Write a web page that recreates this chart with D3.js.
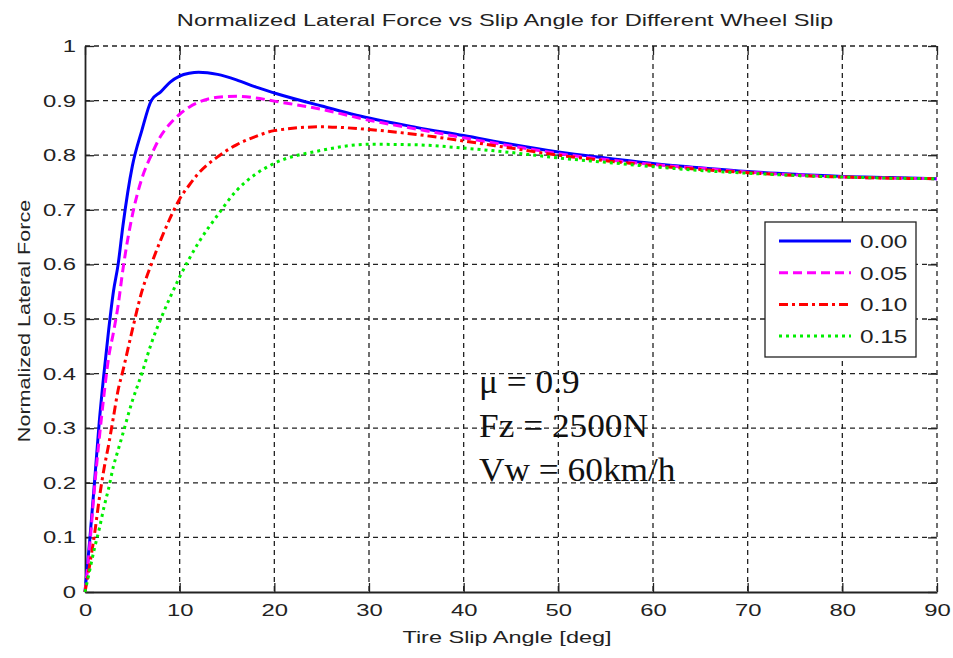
<!DOCTYPE html>
<html>
<head>
<meta charset="utf-8">
<script src="https://cdn.jsdelivr.net/npm/d3@7/dist/d3.min.js"></script>
<style>
  body { margin: 0; background: #fff; }
  svg { display: block; }
</style>
</head>
<body>
<div id="chart"></div>
<script>
//Chart data
let slipAngles = [0, 0.5, 1, 1.5, 2, 2.5, 3, 3.5, 4, 5, 6, 7, 8, 9, 10, 11, 12, 14, 16, 18, 20, 25, 30, 35, 40, 45, 50, 55, 60, 65, 70, 75, 80, 85, 90];
let force000 = [0, 0.095, 0.2, 0.31, 0.4, 0.48, 0.55, 0.6, 0.67, 0.78, 0.845, 0.9, 0.916, 0.934, 0.945, 0.95, 0.952, 0.948, 0.938, 0.925, 0.914, 0.89, 0.868, 0.851, 0.836, 0.82, 0.806, 0.795, 0.785, 0.777, 0.77, 0.765, 0.761, 0.759, 0.757];
let force005 = [0, 0.085, 0.19, 0.28, 0.36, 0.43, 0.475, 0.525, 0.59, 0.69, 0.757, 0.8, 0.835, 0.858, 0.875, 0.888, 0.897, 0.906, 0.908, 0.905, 0.899, 0.884, 0.864, 0.848, 0.832, 0.817, 0.803, 0.792, 0.783, 0.776, 0.769, 0.764, 0.76, 0.758, 0.757];
let force010 = [0, 0.05, 0.105, 0.17, 0.225, 0.27, 0.32, 0.37, 0.405, 0.48, 0.55, 0.6, 0.645, 0.685, 0.72, 0.745, 0.767, 0.797, 0.819, 0.834, 0.845, 0.852, 0.847, 0.838, 0.826, 0.813, 0.8, 0.79, 0.781, 0.774, 0.768, 0.763, 0.76, 0.758, 0.757];
let force015 = [0, 0.04, 0.08, 0.115, 0.155, 0.19, 0.23, 0.26, 0.29, 0.35, 0.4, 0.455, 0.5, 0.54, 0.577, 0.61, 0.64, 0.69, 0.735, 0.765, 0.785, 0.809, 0.82, 0.819, 0.813, 0.805, 0.795, 0.787, 0.779, 0.772, 0.767, 0.763, 0.76, 0.758, 0.757];
let seriesLabels = ["0.00", "0.05", "0.10", "0.15"];
let xTicks = [0, 10, 20, 30, 40, 50, 60, 70, 80, 90];
let yTicks = [0, 0.1, 0.2, 0.3, 0.4, 0.5, 0.6, 0.7, 0.8, 0.9, 1];
let yTickLabels = ["0", "0.1", "0.2", "0.3", "0.4", "0.5", "0.6", "0.7", "0.8", "0.9", "1"];
let notes = ["\u03bc = 0.9", "Fz = 2500N", "Vw = 60km/h"];

//dimensions and margins
let width = 953;
let height = 658;
let margin = { top: 46, right: 16, bottom: 66, left: 85 };
let plotW = width - margin.left - margin.right;
let plotH = height - margin.top - margin.bottom;

//line styles for each series
let styles = [
    { color: "#0000ff", dash: null },
    { color: "#ff00ff", dash: "9,5" },
    { color: "#ff0000", dash: "9,4,3,4" },
    { color: "#00ee00", dash: "3,4" }
];
let allSeries = [force000, force005, force010, force015];

/**
 * The figure's font is a wide bitmap Helvetica: widen real text to match
 * @param {object} sel d3 selection of text nodes
 * @param {number} k widening factor
 */
function widen(sel, k) {
    sel.each(function () {
        let w = this.getComputedTextLength();
        d3.select(this)
            .attr("textLength", w * k)
            .attr("lengthAdjust", "spacingAndGlyphs");
    });
}

let svg = d3.select("#chart")
    .append("svg")
    .attr("width", width)
    .attr("height", height)
    .style("font-family", "'Liberation Sans', Arial, sans-serif");

let g = svg.append("g")
    .attr("transform", "translate(" + margin.left + "," + margin.top + ")");

let x = d3.scaleLinear().domain([0, 90]).range([0, plotW]);
let y = d3.scaleLinear().domain([0, 1]).range([plotH, 0]);

/**
 * Dashed grid lines
 */
let grid = g.append("g").attr("class", "grid");
grid.selectAll("line.vg")
    .data(xTicks.slice(1))
    .enter()
    .append("line")
    .attr("class", "vg")
    .attr("x1", d => x(d)).attr("x2", d => x(d))
    .attr("y1", 0).attr("y2", plotH);
grid.selectAll("line.hg")
    .data(yTicks.slice(1))
    .enter()
    .append("line")
    .attr("class", "hg")
    .attr("x1", 0).attr("x2", plotW)
    .attr("y1", d => y(d)).attr("y2", d => y(d));
grid.selectAll("line")
    .attr("stroke", "#222")
    .attr("stroke-width", 1.3)
    .attr("stroke-dasharray", "5,4");

/**
 * Axes with inward ticks on all four sides
 */
let xAxis = g.append("g")
    .attr("transform", "translate(0," + plotH + ")")
    .call(d3.axisBottom(x).tickValues(xTicks).tickSizeInner(-9).tickSizeOuter(0).tickPadding(12));
let yAxis = g.append("g")
    .call(d3.axisLeft(y).tickValues(yTicks).tickSizeInner(-9).tickSizeOuter(0).tickPadding(9)
        .tickFormat((d, i) => yTickLabels[i]));
let xTop = g.append("g")
    .call(d3.axisTop(x).tickValues(xTicks).tickSizeInner(-9).tickSizeOuter(0).tickFormat(""));
let yRight = g.append("g")
    .attr("transform", "translate(" + plotW + ",0)")
    .call(d3.axisRight(y).tickValues(yTicks).tickSizeInner(-9).tickSizeOuter(0).tickFormat(""));

[xAxis, yAxis, xTop, yRight].forEach(function (a) {
    a.selectAll(".tick line").attr("stroke", "#222").attr("stroke-width", 1.3);
    a.selectAll("text").attr("fill", "#222").style("font-size", "17px");
});
[xTop, yRight].forEach(a => a.select(".domain").remove());
[xAxis, yAxis].forEach(a => a.select(".domain").attr("stroke", "#222").attr("stroke-width", 1.8));
widen(xAxis.selectAll("text"), 1.4);
widen(yAxis.selectAll("text"), 1.4);

/**
 * Curves
 */
let line = d3.line()
    .x((d, i) => x(slipAngles[i]))
    .y(d => y(d))
    .curve(d3.curveMonotoneX);

g.selectAll("path.series")
    .data(allSeries)
    .enter()
    .append("path")
    .attr("class", "series")
    .attr("d", d => line(d))
    .attr("fill", "none")
    .attr("stroke", (d, i) => styles[i].color)
    .attr("stroke-width", 3)
    .attr("stroke-dasharray", (d, i) => styles[i].dash);

/**
 * Legend
 */
let legend = svg.append("g").attr("transform", "translate(765,222)");
legend.append("rect")
    .attr("width", 151).attr("height", 135)
    .attr("fill", "#fff").attr("stroke", "#222").attr("stroke-width", 1.3);
let entries = legend.selectAll("g.entry")
    .data(seriesLabels)
    .enter()
    .append("g")
    .attr("class", "entry")
    .attr("transform", (d, i) => "translate(0," + (19 + i * 31.7) + ")");
entries.append("line")
    .attr("x1", 14).attr("x2", 86)
    .attr("stroke", (d, i) => styles[i].color)
    .attr("stroke-width", 3)
    .attr("stroke-dasharray", (d, i) => styles[i].dash);
let legendText = entries.append("text")
    .attr("x", 95).attr("y", 7)
    .attr("fill", "#222")
    .style("font-size", "18px")
    .text(d => d);
widen(legendText, 1.35);

/**
 * Annotation
 */
let noteText = svg.append("g")
    .selectAll("text")
    .data(notes)
    .enter()
    .append("text")
    .attr("x", 479)
    .attr("y", (d, i) => 393 + i * 44)
    .attr("fill", "#111")
    .style("font-family", "'Liberation Serif', 'Times New Roman', serif")
    .style("font-size", "33px")
    .text(d => d);
widen(noteText, 1.07);

/**
 * Titles
 */
let title = svg.append("text")
    .attr("x", 505).attr("y", 26)
    .attr("text-anchor", "middle")
    .attr("fill", "#222")
    .style("font-size", "17px")
    .text("Normalized Lateral Force vs Slip Angle for Different Wheel Slip");
let xLabel = svg.append("text")
    .attr("x", 507).attr("y", 643)
    .attr("text-anchor", "middle")
    .attr("fill", "#222")
    .style("font-size", "17px")
    .text("Tire Slip Angle [deg]");
let yLabel = svg.append("text")
    .attr("transform", "translate(30,321) rotate(-90)")
    .attr("text-anchor", "middle")
    .attr("fill", "#222")
    .style("font-size", "17px")
    .text("Normalized Lateral Force");
widen(title, 1.39);
widen(xLabel, 1.38);
widen(yLabel, 1.27);
</script>
</body>
</html>
